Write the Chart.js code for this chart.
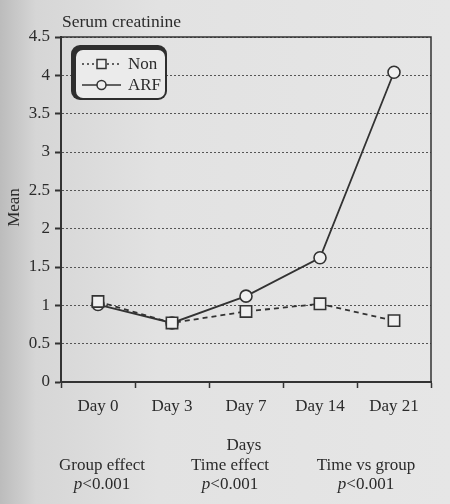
<!DOCTYPE html>
<html>
<head>
<meta charset="utf-8">
<script src="https://cdn.jsdelivr.net/npm/chart.js@4.4.0/dist/chart.umd.min.js"></script>
<style>
  html, body { margin: 0; padding: 0; }
  body {
    width: 450px; height: 504px; overflow: hidden;
    background: linear-gradient(to right, #bcbcbc 0%, #d6d6d6 8%, #e2e2e2 35%, #e6e6e6 100%);
  }
  #wrap { width: 450px; height: 504px; }
</style>
</head>
<body>
<div id="wrap"><canvas id="chart" width="450" height="504"></canvas></div>
<script>
const days = ['Day 0', 'Day 3', 'Day 7', 'Day 14', 'Day 21'];
const nonValues = [1.05, 0.77, 0.92, 1.02, 0.80];
const arfValues = [1.01, 0.77, 1.12, 1.62, 4.04];
const yTicks = ['0', '0.5', '1', '1.5', '2', '2.5', '3', '3.5', '4', '4.5'];
const effects = ['Group effect', 'Time effect', 'Time vs group'];
const pValues = ['<0.001', '<0.001', '<0.001'];

const serif = '"Liberation Serif", "DejaVu Serif", serif';
const ink = '#2b2b2b';

// texts around the plot: title, axis titles, p values
const textPlugin = {
    id: 'texts',
    afterDraw(chart) {
        const ctx = chart.ctx;
        const area = chart.chartArea;
        ctx.save();
        ctx.fillStyle = ink;
        ctx.font = '17.5px ' + serif;
        ctx.textAlign = 'left';
        ctx.textBaseline = 'alphabetic';
        ctx.fillText('Serum creatinine', area.left + 1, 27);

        ctx.font = '17px ' + serif;
        ctx.save();
        ctx.translate(15, (area.top + area.bottom) / 2 - 2);
        ctx.rotate(-Math.PI / 2);
        ctx.textAlign = 'center';
        ctx.textBaseline = 'middle';
        ctx.fillText('Mean', 0, 0);
        ctx.restore();

        ctx.textAlign = 'center';
        ctx.textBaseline = 'middle';
        ctx.fillText('Days', (area.left + area.right) / 2 - 2, 446);

        const centers = [102, 230, 366];
        effects.forEach((label, i) => {
            ctx.font = '17px ' + serif;
            ctx.textAlign = 'center';
            ctx.fillText(label, centers[i], 466);
            // italic p followed by the value
            ctx.font = 'italic 17px ' + serif;
            const wp = ctx.measureText('p').width;
            ctx.font = '17px ' + serif;
            const wv = ctx.measureText(pValues[i]).width;
            const x0 = centers[i] - (wp + wv) / 2;
            ctx.textAlign = 'left';
            ctx.font = 'italic 17px ' + serif;
            ctx.fillText('p', x0, 485);
            ctx.font = '17px ' + serif;
            ctx.fillText(pValues[i], x0 + wp, 485);
        });
        ctx.restore();
    }
};

// frame round the plot area and the boxed legend
const framePlugin = {
    id: 'frame',
    afterDatasetsDraw(chart) {
        const ctx = chart.ctx;
        const a = chart.chartArea;
        ctx.save();
        ctx.strokeStyle = '#333';
        ctx.lineWidth = 1.5;
        ctx.beginPath();
        ctx.moveTo(a.left, a.top);
        ctx.lineTo(a.right, a.top);
        ctx.lineTo(a.right, a.bottom);
        ctx.stroke();

        // legend box with heavy shadow on top and left
        ctx.fillStyle = '#2e2e2e';
        ctx.beginPath();
        ctx.roundRect(71, 45, 96, 55, 9);
        ctx.fill();
        ctx.fillStyle = '#ebebeb';
        ctx.beginPath();
        ctx.roundRect(76, 50, 89, 48, 7);
        ctx.fill();

        const ds = chart.data.datasets;
        const rows = [64, 85];
        ds.forEach((d, i) => {
            const y = rows[i];
            ctx.strokeStyle = '#333';
            ctx.lineWidth = 1.5;
            ctx.setLineDash(i === 0 ? [2, 3] : []);
            ctx.beginPath();
            ctx.moveTo(82, y);
            ctx.lineTo(121, y);
            ctx.stroke();
            ctx.setLineDash([]);
            ctx.fillStyle = '#efefef';
            ctx.beginPath();
            if (d.pointStyle === 'rect') ctx.rect(97, y - 4.5, 9, 9);
            else ctx.arc(101.5, y, 4.5, 0, Math.PI * 2);
            ctx.fill();
            ctx.stroke();
            ctx.fillStyle = ink;
            ctx.font = '17px ' + serif;
            ctx.textAlign = 'left';
            ctx.textBaseline = 'middle';
            ctx.fillText(d.label, 128, y + 1);
        });
        ctx.restore();
    }
};

new Chart(document.getElementById('chart'), {
    type: 'line',
    data: {
        labels: days,
        datasets: [{
            label: 'Non',
            data: nonValues,
            borderColor: '#333',
            borderWidth: 1.8,
            borderDash: [5, 4],
            pointStyle: 'rect',
            pointRadius: 8,
            pointBorderWidth: 1.6,
            pointBackgroundColor: '#f0f0f0',
            pointBorderColor: '#333',
            tension: 0
        }, {
            label: 'ARF',
            data: arfValues,
            borderColor: '#333',
            borderWidth: 1.8,
            pointStyle: 'circle',
            pointRadius: 6,
            pointBorderWidth: 1.6,
            pointBackgroundColor: '#f0f0f0',
            pointBorderColor: '#333',
            tension: 0
        }]
    },
    options: {
        responsive: false,
        animation: false,
        events: [],
        layout: { padding: { top: 37, right: 19, left: 0, bottom: 0 } },
        plugins: {
            legend: { display: false },
            title: { display: false },
            tooltip: { enabled: false }
        },
        scales: {
            x: {
                offset: true,
                afterFit: (s) => { s.height = 122; },
                grid: {
                    offset: true,
                    drawOnChartArea: false,
                    tickLength: 6,
                    tickColor: '#333',
                    tickWidth: 1.5,
                    tickBorderDash: [10, 0]
                },
                border: { color: '#333', width: 2 },
                ticks: {
                    color: ink,
                    padding: 8,
                    maxRotation: 0,
                    font: { family: serif, size: 17 }
                }
            },
            y: {
                min: 0,
                max: 4.5,
                afterFit: (s) => { s.width = 61; },
                ticks: {
                    stepSize: 0.5,
                    color: ink,
                    padding: 5,
                    font: { family: serif, size: 17 },
                    callback: (v, i) => yTicks[i]
                },
                grid: {
                    color: '#555',
                    lineWidth: 1,
                    tickBorderDash: [10, 0],
                    tickLength: 6,
                    tickColor: '#333',
                    tickWidth: 2
                },
                border: { color: '#333', width: 2, dash: [2, 2] }
            }
        }
    },
    plugins: [textPlugin, framePlugin]
});
</script>
</body>
</html>
